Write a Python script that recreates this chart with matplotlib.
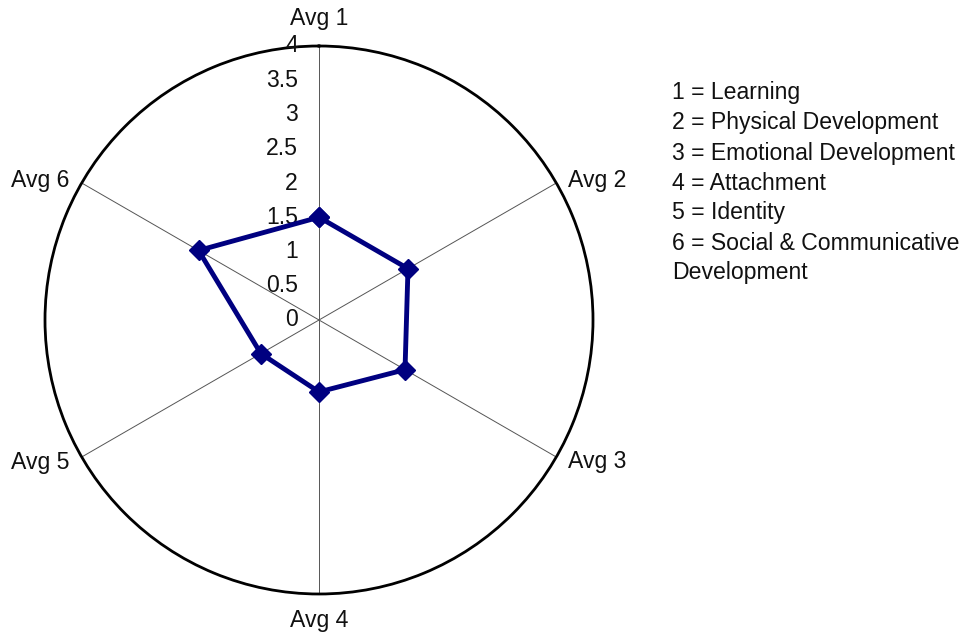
import numpy as np
import matplotlib
matplotlib.use("Agg")
import matplotlib.pyplot as plt
from matplotlib.transforms import offset_copy

plt.rcParams['font.family'] = ['Liberation Sans', 'DejaVu Sans']

categories = ["Avg 1", "Avg 2", "Avg 3", "Avg 4", "Avg 5", "Avg 6"]
values = [1.5, 1.5, 1.45, 1.05, 0.98, 2.03]
radial_ticks = [0, 0.5, 1, 1.5, 2, 2.5, 3, 3.5, 4]
radial_labels = ["0", "0.5", "1", "1.5", "2", "2.5", "3", "3.5", "4"]
legend_lines = ["1 = Learning", "2 = Physical Development", "3 = Emotional Development",
                "4 = Attachment", "5 = Identity", "6 = Social & Communicative",
                "Development"]

W, H = 974, 634
fig = plt.figure(figsize=(W / 100, H / 100), dpi=100)
cx, cy, R = 319, 320, 274
ax = fig.add_axes([(cx - R) / W, (H - cy - R) / H, 2 * R / W, 2 * R / H], projection='polar')
ax.set_theta_zero_location('N')
ax.set_theta_direction(-1)
ax.set_ylim(0, 4)

n = len(categories)
angles = np.arange(n) * 2 * np.pi / n

ax.set_yticks([])
ax.set_xticks(angles)
ax.set_xticklabels([])
ax.xaxis.grid(True, color='#555555', linewidth=0.7)
ax.yaxis.grid(False)
ax.tick_params(axis='x', length=0)
ax.spines['polar'].set_linewidth(2)
ax.spines['polar'].set_color('black')

fs = 16.6
# radial tick labels
for t, lab in zip(radial_ticks, radial_labels):
    tr = offset_copy(ax.transData, fig=fig, x=-21, y=0, units='dots')
    ax.text(0, t, lab, transform=tr, ha='right', va='center', fontsize=fs, color='#111111')

# category labels
offsets = [(0, 28, 'center'), (12, 3, 'left'), (12, -5, 'left'),
           (0, -27, 'center'), (-12, -5, 'right'), (-12, 3, 'right')]
for a, lab, (dx, dy, ha) in zip(angles, categories, offsets):
    tr = offset_copy(ax.transData, fig=fig, x=dx, y=dy, units='dots')
    ax.text(a, 4, lab, transform=tr, ha=ha, va='center', fontsize=fs, color='#111111')

# data
th = np.append(angles, angles[0])
vv = np.append(values, values[0])
ax.plot(th, vv, color='#000080', linewidth=3.5, marker='D', markersize=10.5,
        markerfacecolor='#000080', markeredgecolor='#000080', clip_on=False, zorder=5)

# legend text
for i, line in enumerate(legend_lines):
    fig.text(672 / W, 1 - (93 + 30 * i) / H, line, ha='left', va='center', fontsize=fs, color='#111111')

fig.savefig('out.png', dpi=100)
